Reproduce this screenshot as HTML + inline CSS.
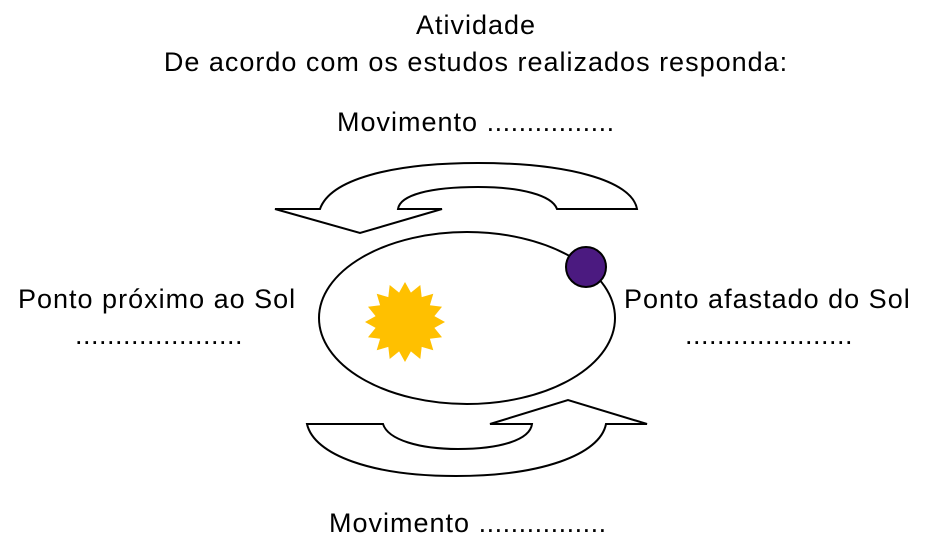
<!DOCTYPE html>
<html><head><meta charset="utf-8"><style>
body{margin:0;background:#fff;width:928px;height:549px;overflow:hidden;position:relative;font-family:"Liberation Sans",sans-serif;color:#000}
.t{position:absolute;font-size:27px;letter-spacing:1px;white-space:nowrap;line-height:1}
.d{letter-spacing:0.5px}
</style></head><body>
<div class="t" style="left:0;width:952px;text-align:center;top:12px">Atividade</div>
<div class="t" style="left:0;width:952px;text-align:center;top:49px">De acordo com os estudos realizados responda:</div>
<div class="t" style="left:337px;top:109px">Movimento <span class="d">................</span></div>
<div class="t" style="left:18px;top:286px">Ponto próximo ao Sol</div>
<div class="t d" style="left:75px;top:322px">.....................</div>
<div class="t" style="left:624px;top:286px">Ponto afastado do Sol</div>
<div class="t d" style="left:685px;top:322px">.....................</div>
<div class="t" style="left:329px;top:510px">Movimento <span class="d">................</span></div>
<svg width="928" height="549" style="position:absolute;left:0;top:0" xmlns="http://www.w3.org/2000/svg">
<path d="M275,209 L320,209 C330,180 390,163 478,163 C566,163 632,180 637,209 L557,209 C552,195 520,187 478,187 C430,187 400,195 398,209 L442,209 L360,233 Z" fill="#fff" stroke="#000" stroke-width="2"/>
<ellipse cx="467" cy="318" rx="148" ry="86" fill="#fff" stroke="#000" stroke-width="2"/>
<path d="M307,424 L383,424 C388,440 420,449 458,449 C500,449 530,440 532,424 L490,424 L568,400 L647,424 L606,424 C600,455 540,476 456,476 C372,476 314,455 307,424 Z" fill="#fff" stroke="#000" stroke-width="2"/>
<polygon id="sun" fill="#ffc000"/>
<circle cx="586" cy="267" r="20" fill="#4b1a80" stroke="#000" stroke-width="2"/>
</svg>
<script>
var p=[],n=16;for(var i=0;i<2*n;i++){var r=i%2?30:40,a=Math.PI*i/n-Math.PI/2;p.push((405+r*Math.cos(a)).toFixed(1)+","+(322+r*Math.sin(a)).toFixed(1));}
document.getElementById("sun").setAttribute("points",p.join(" "));
</script>
</body></html>
